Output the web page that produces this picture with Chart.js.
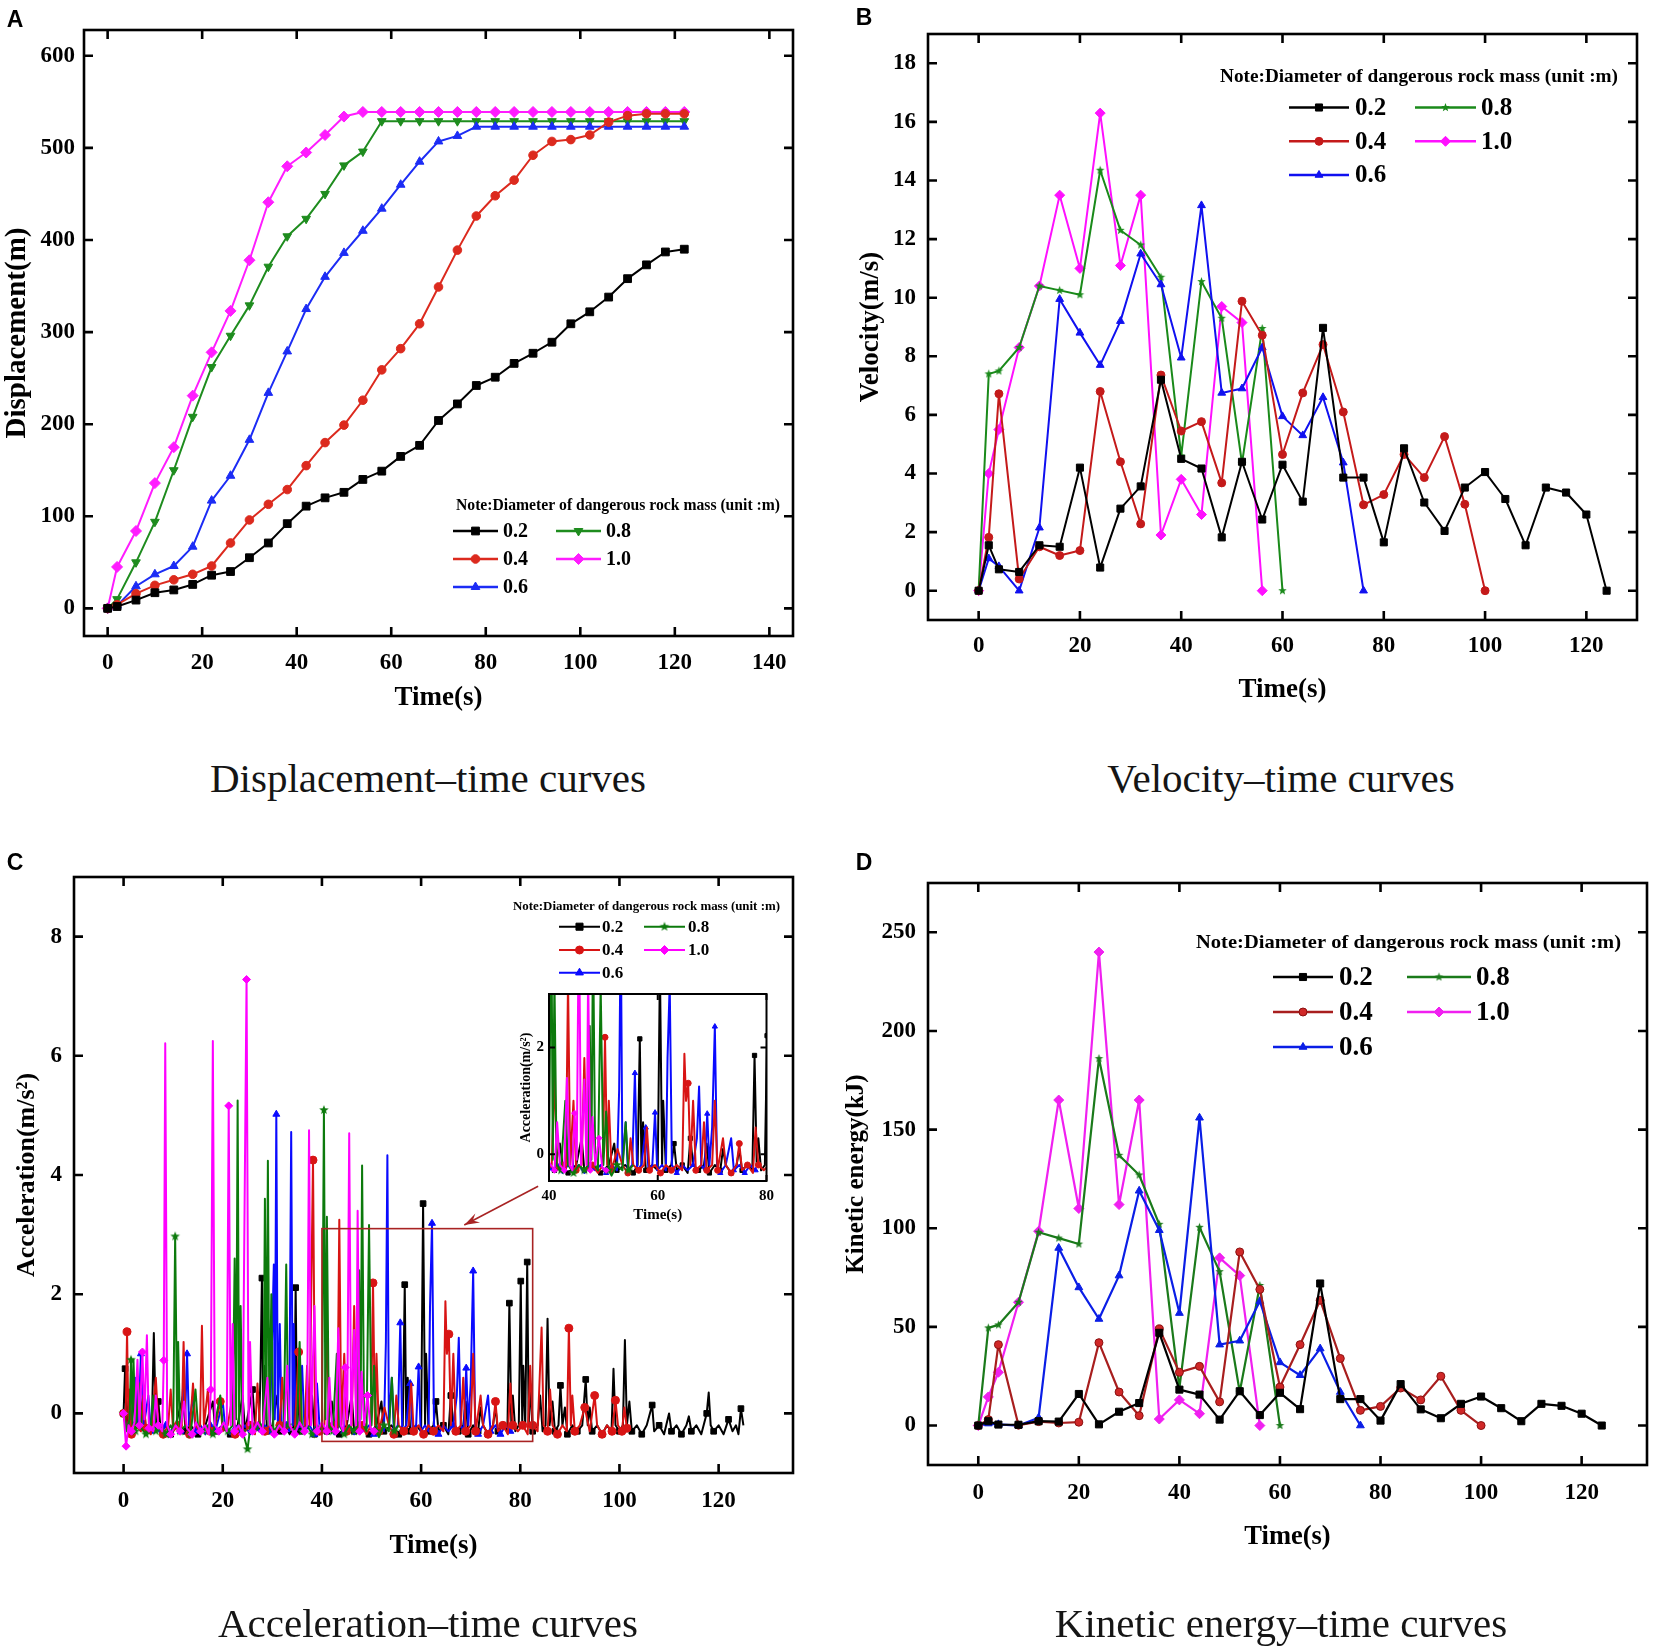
<!DOCTYPE html>
<html><head><meta charset="utf-8">
<script src="https://cdn.jsdelivr.net/npm/chart.js@4.4.1/dist/chart.umd.min.js"></script>
<style>
html,body{margin:0;padding:0;background:#fff;}
#page{position:relative;width:1653px;height:1647px;overflow:hidden;background:#fff;}
.cv{position:absolute;}
.cap{position:absolute;font-family:"Liberation Serif","Times New Roman",serif;font-size:41px;color:#151515;white-space:nowrap;transform:translate(-50%,-50%);}
.lab{position:absolute;font-family:"Liberation Sans",Arial,sans-serif;font-weight:bold;font-size:23px;color:#000;transform:translate(-50%,-50%);}
</style></head><body>
<div id="page">
  <div class="cv" style="left:0;top:0"><canvas id="cA" width="820" height="740"></canvas></div>
  <div class="cv" style="left:830px;top:0"><canvas id="cB" width="823" height="740"></canvas></div>
  <div class="cv" style="left:0;top:820px"><canvas id="cC" width="820" height="780"></canvas></div>
  <div class="cv" style="left:830px;top:820px"><canvas id="cD" width="823" height="780"></canvas></div>
  <div class="cv" style="left:505px;top:980px"><canvas id="cI" width="275" height="250"></canvas></div>
  <div class="lab" style="left:15px;top:19px">A</div>
  <div class="lab" style="left:864px;top:17px">B</div>
  <div class="lab" style="left:15px;top:862px">C</div>
  <div class="lab" style="left:864px;top:862px">D</div>
  <div class="cap" style="left:428px;top:778px">Displacement–time curves</div>
  <div class="cap" style="left:1281px;top:778px">Velocity–time curves</div>
  <div class="cap" style="left:428px;top:1623px">Acceleration–time curves</div>
  <div class="cap" style="left:1281px;top:1623px">Kinetic energy–time curves</div>
</div>
<script>
// ---------------- DATA ----------------
const seriesLabels = ['0.2','0.4','0.6','0.8','1.0'];
const noteText = 'Note:Diameter of dangerous rock mass (unit :m)';

// tick label values
const ticksTime140 = [0,20,40,60,80,100,120,140];
const ticksTime120 = [0,20,40,60,80,100,120];
const ticksDisp = [0,100,200,300,400,500,600];
const ticksVel = [0,2,4,6,8,10,12,14,16,18];
const ticksAcc = [0,2,4,6,8];
const ticksKE = [0,50,100,150,200,250];
const ticksInsetX = [40,60,80];
const ticksInsetY = [0,2];

// Panel A: displacement (m)
const tA = [0,2,6,10,14,18,22,26,30,34,38,42,46,50,54,58,62,66,70,74,78,82,86,90,94,98,102,106,110,114,118,122];
const disp02 = [0,2,9,17,20,26,36,40,55,71,92,111,120,126,140,149,165,177,204,222,242,251,266,277,289,309,322,338,358,373,387,390];
const disp04 = [0,4,16,25,31,37,46,71,96,113,129,155,180,199,226,259,282,309,349,389,426,448,465,492,507,509,514,528,535,537,537,537];
const disp06 = [0,3,24,37,46,67,117,144,183,234,279,325,360,386,410,434,460,485,507,513,523,523,523,523,523,523,523,523,523,523,523,523];
const disp08 = [0,10,50,94,150,208,262,296,329,371,404,423,450,481,496,529,529,529,529,529,529,529,529,529,529,529,529,529,529,529,529,529];
const disp10 = [0,45,84,136,175,231,278,323,378,441,480,495,514,534,539,539,539,539,539,539,539,539,539,539,539,539,539,539,539,539,539,539];

// Panel B: velocity (m/s)
const tB = [0,2,4,8,12,16,20,24,28,32,36,40,44,48,52,56,60,64,68,72,76,80,84,88,92,96,100,104,108,112,116,120,124];
const vel02 = [0,1.55,0.73,0.64,1.55,1.5,4.2,0.79,2.8,3.56,7.2,4.5,4.17,1.82,4.4,2.43,4.3,3.04,8.97,3.86,3.86,1.65,4.86,3.01,2.04,3.52,4.05,3.13,1.55,3.52,3.35,2.6,0];
const vel04 = [0,1.82,6.72,0.4,1.5,1.2,1.37,6.8,4.4,2.28,7.36,5.45,5.77,3.68,9.88,8.72,4.65,6.75,8.4,6.1,2.93,3.28,4.65,3.86,5.26,2.95,0];
const vel06 = [0,1.1,0.83,0,2.15,9.95,8.8,7.7,9.2,11.5,10.45,7.95,13.15,6.75,6.9,8.3,5.95,5.3,6.6,4.37,0];
const vel08 = [0,7.4,7.5,8.3,10.4,10.25,10.1,14.35,12.3,11.8,10.7,4.6,10.55,9.3,4.35,8.95,0];
const vel10 = [0,4.0,5.5,8.3,10.4,13.5,11.0,16.3,11.1,13.5,1.9,3.8,2.6,9.7,9.15,0];

// Panel D: kinetic energy (kJ), same time grid as B
const ke02 = [0,2.2,0.5,0.4,2.2,2,16,0.6,7,11.4,47,18.2,15.7,3,17.4,5.3,16.6,8.3,72,13.4,13.4,2.5,21,8.2,3.7,11,14.7,8.8,2.2,11,10,6,0];
const ke04 = [0,3,41,0.2,2,1.3,1.7,42,17,5,49,27,30,12,88,69,19.5,41,63.5,34,7.7,9.7,19,13,25,7.7,0];
const ke06 = [0,1,0.6,0,4,90,70,54,76,119,99,57,156,41,43,63,32,25.5,39,17,0];
const ke08 = [0,49.5,51,62.5,98,95,92,186,137,127,102,19,100.5,78,17,71,0];
const ke10 = [0,14.5,27,62.5,98.5,165,110,240,112,165,3.3,13,6,85,76,0];

// Panel C: acceleration (m/s^2); [time, value, marker?]
const acc02 = [[0,0,1],[0.3,0.75,1],[0.6,-0.2],[1.0,0.2],[1.4,-0.3],[2.5,0.5],[2.9,-0.2,1],[4.0,0.3],[4.5,-0.3],[5.7,-0.2],[6.1,1.35],[6.5,-0.2],[7.0,0.2,1],[7.5,-0.3],[8.5,-0.2],[9.5,-0.35,1],[10.5,-0.2],[12.0,0.3],[12.5,-0.3,1],[13.5,-0.2],[15.0,-0.35,1],[16.5,-0.2],[18.0,0.2],[18.5,-0.3,1],[20.0,-0.2],[21.5,-0.35,1],[23.0,-0.2],[24.0,0.3],[24.5,-0.3],[26.0,0.4,1],[26.5,-0.2],[27.3,-0.3],[27.6,0.6],[27.9,2.27,1],[28.2,-0.2],[28.5,0.8],[28.9,-0.3,1],[30.0,-0.2],[31.0,0.3],[31.5,-0.3,1],[32.5,-0.2],[33.5,-0.35],[34.4,-0.2],[34.7,2.11,1],[35.0,-0.2],[35.2,0.5],[35.6,-0.3,1],[36.8,-0.2],[38.0,0.3],[38.5,-0.35,1],[40.0,-0.2],[41.0,-0.3,1],[42.0,0.2],[42.5,-0.2],[43.5,-0.35,1],[45.0,-0.2],[46.0,0.3],[46.5,-0.3,1],[48.0,-0.2],[49.5,-0.35,1],[51.0,-0.2],[52.0,0.2],[52.5,-0.3,1],[54.0,-0.2],[55.5,-0.35,1],[56.3,-0.2],[56.7,2.16,1],[57.0,-0.2],[57.3,0.6],[57.8,-0.3,1],[59.0,-0.2],[60.0,-0.3],[60.4,3.52,1],[60.8,-0.2],[61.0,1.0],[61.5,-0.3,1],[62.5,-0.2],[63.0,0.2,1],[63.5,-0.3],[64.5,-0.2,1],[65.5,-0.35],[66.0,0.3,1],[66.5,-0.2],[67.5,-0.3,1],[68.5,-0.2],[69.0,0.2],[69.5,-0.35,1],[70.5,-0.2],[71.5,-0.3,1],[72.0,0.1],[72.5,-0.2],[73.5,-0.35,1],[74.5,-0.2],[75.0,0.1],[75.5,-0.3,1],[76.5,-0.2],[77.4,-0.3],[77.8,1.85,1],[78.2,-0.2],[78.5,0.3],[79.0,-0.3],[79.7,-0.2],[80.1,2.22,1],[80.4,-0.2],[80.6,0.8],[81.0,-0.2],[81.4,2.54,1],[81.7,-0.2],[82.0,0.5],[82.5,-0.3,1],[83.5,-0.2],[84.0,0.3],[84.5,-0.3],[85.1,-0.2],[85.5,1.59],[85.9,-0.2],[86.5,0.2],[87.0,-0.3,1],[87.7,-0.2],[88.1,0.47,1],[88.5,-0.2],[89.0,0.1],[89.5,-0.35,1],[90.5,-0.2],[91.5,-0.3,1],[92.5,-0.2],[93.2,0.57,1],[93.6,-0.2],[94.0,0.1],[94.5,-0.3,1],[95.5,-0.2],[96.5,-0.35,1],[97.5,-0.2],[98.4,-0.3],[98.8,0.75],[99.2,-0.2],[100.0,-0.3,1],[100.7,-0.2],[101.1,1.23],[101.5,-0.2],[102.0,0.2],[102.5,-0.3,1],[103.5,-0.2],[104.5,-0.35,1],[105.5,-0.2],[106.6,0.14,1],[107.0,-0.3],[108.0,-0.2,1],[109.0,-0.35],[110.0,0.0],[110.5,-0.3,1],[111.5,-0.2],[112.5,-0.35,1],[113.5,-0.2],[114.0,-0.05],[114.5,-0.3,1],[115.5,-0.2],[116.5,-0.35],[117.6,0.0,1],[118.0,0.35],[118.4,-0.2],[119.0,-0.3,1],[120.0,-0.2],[121.0,-0.35],[122.0,-0.1,1],[122.8,-0.3],[123.5,-0.2],[124.0,-0.35],[124.5,0.08,1],[125.0,-0.2]];
const acc04 = [[0,0,1],[0.4,-0.2],[0.7,1.37,1],[1.0,-0.3],[1.2,0.4],[1.6,-0.35,1],[2.5,-0.2],[3.5,-0.3],[4.0,0.3],[4.5,-0.25,1],[5.5,-0.35],[6.5,0.6],[7.0,-0.2],[8.0,-0.35,1],[9.0,-0.2],[9.5,0.4],[10.0,-0.3],[11.0,-0.2,1],[11.7,-0.3],[12.1,1.2],[12.5,-0.2],[13.3,-0.35,1],[14.0,0.5],[14.5,-0.2],[15.4,-0.3],[15.8,1.47],[16.2,-0.2],[17.0,0.4],[17.5,-0.3,1],[18.5,-0.2],[19.5,0.2,1],[20.0,-0.3],[21.0,-0.2],[22.0,0.3],[22.5,-0.35,1],[23.5,-0.2],[24.5,-0.3],[25.5,-0.2,1],[26.5,-0.35],[27.0,0.5],[27.5,-0.2],[28.5,-0.3,1],[29.5,-0.2],[30.5,-0.35],[31.5,-0.2,1],[32.0,0.6],[32.5,-0.3],[33.5,-0.2],[34.5,-0.35],[35.3,1.03,1],[35.7,-0.2],[36.5,-0.3],[37.0,0.8],[37.5,-0.2],[38.2,4.25,1],[38.6,-0.2],[39.5,-0.3,1],[40.5,-0.2],[41.0,1.5],[41.5,-0.3],[42.5,-0.2,1],[43.1,-0.3],[43.5,3.25],[43.9,-0.2],[44.5,1.0],[45.0,-0.3,1],[46.0,-0.2],[46.5,1.8],[47.0,-0.3],[48.0,-0.2,1],[49.0,-0.35],[49.9,-0.2],[50.3,2.19,1],[50.7,-0.2],[51.0,1.0],[51.5,-0.3,1],[52.6,0.1],[53.5,-0.2],[54.5,-0.35,1],[55.0,0.3],[55.5,-0.2],[56.5,-0.3,1],[57.5,-0.2],[58.0,0.5],[58.5,-0.3,1],[59.5,-0.2],[60.5,-0.35,1],[61.5,-0.2],[62.5,-0.3,1],[63.5,-0.2],[64.5,-0.3],[64.9,1.88],[65.2,1.0],[65.6,1.33,1],[66.0,-0.2],[66.5,1.0],[67.0,-0.3,1],[68.0,-0.2],[68.5,0.6],[69.0,-0.3,1],[70.0,-0.2],[70.5,1.0],[71.0,-0.3,1],[72.0,0.3],[72.5,-0.2],[73.5,-0.35,1],[74.5,-0.2],[75.0,0.2,1],[75.5,-0.3],[76.5,-0.2,1],[77.5,-0.35],[78.0,0.5],[78.5,-0.2,1],[79.5,-0.3],[80.5,-0.2,1],[81.5,-0.35],[82.0,0.8],[82.5,-0.2,1],[83.5,-0.3],[84.3,1.44],[84.7,-0.2],[85.5,-0.3,1],[86.0,0.4],[86.5,-0.2],[87.5,-0.35,1],[88.5,-0.2],[89.4,-0.3],[89.8,1.43,1],[90.2,-0.2],[90.5,0.3],[91.0,-0.3,1],[92.0,-0.2],[93.0,0.1,1],[94.0,-0.3],[95.0,0.3,1],[95.5,-0.2],[96.5,-0.35,1],[97.5,-0.2],[98.5,-0.3,1],[99.2,0.22,1],[99.7,-0.2],[100.5,-0.3,1],[101.0,0.1],[101.5,-0.25,1],[102.2,-0.2]];
const acc06 = [[0,0,1],[0.8,-0.3],[1.5,-0.15,1],[2.5,0.6],[3.0,-0.2],[3.5,1.0,1],[4.0,-0.25],[5.0,0.3],[5.5,-0.3,1],[6.5,-0.2],[7.5,-0.35],[8.5,-0.2,1],[9.5,-0.3],[10.5,-0.2],[11.5,-0.3,1],[12.1,0.6],[12.4,-0.1],[12.8,1.0,1],[13.2,-0.2],[14.0,0.3],[14.5,-0.3,1],[15.5,-0.2],[16.5,-0.35],[17.5,-0.2,1],[18.5,-0.3],[20.0,0.2],[20.5,-0.25,1],[21.5,-0.35],[22.5,-0.2],[23.5,-0.3,1],[24.5,-0.2],[25.5,-0.35],[26.5,-0.2,1],[27.5,-0.3],[28.5,-0.2],[29.5,-0.3,1],[30.3,2.5],[30.5,-0.1],[30.8,5.02,1],[31.1,-0.2],[31.5,1.5],[31.9,-0.3],[32.8,-0.2,1],[33.4,-0.3],[33.8,4.72],[34.1,-0.2],[34.3,1.5],[34.7,-0.3],[35.5,-0.2,1],[36.0,0.8],[36.5,-0.3],[37.5,-0.2],[38.5,-0.35,1],[39.0,0.5],[39.5,-0.2],[40.5,-0.3],[41.5,-0.2,1],[42.5,-0.35],[43.5,-0.2],[44.0,0.4],[44.5,-0.3,1],[45.5,-0.2],[46.5,-0.35],[47.5,-0.2,1],[48.5,-0.3],[49.5,-0.2],[50.5,-0.35,1],[51.5,-0.2],[52.5,-0.3],[52.9,1.2],[53.2,4.33],[53.5,-0.2],[54.1,0.6],[54.5,-0.3,1],[55.3,-0.2],[55.8,1.52,1],[56.2,-0.3],[57.0,-0.2],[57.8,0.5,1],[58.3,-0.3],[59.0,-0.2],[59.5,0.78,1],[59.9,-0.3],[60.8,-0.2],[61.5,-0.3],[61.8,1.8],[62.2,3.19,1],[62.6,-0.2],[63.5,-0.35,1],[64.5,-0.2],[65.5,-0.3],[66.5,-0.2,1],[67.2,0.3],[67.6,1.27],[68.0,-0.2],[68.6,-0.3],[69.1,0.76,1],[69.5,-0.2],[70.0,0.5],[70.5,2.39,1],[70.9,-0.2],[71.5,-0.35,1],[72.5,-0.2],[73.5,0.3],[74.0,-0.3,1],[75.0,-0.2],[76.0,-0.35,1],[77.0,-0.2],[78.0,-0.3,1]];
const acc08 = [[0,0,1],[0.6,-0.3],[1.2,-0.1],[1.5,0.9,1],[1.8,-0.2],[2.0,0.9],[2.4,-0.3,1],[3.2,0.5],[3.6,-0.25],[4.5,-0.35,1],[5.5,-0.2],[6.0,0.3],[6.5,-0.3,1],[7.5,-0.2],[8.5,-0.35,1],[9.5,-0.2],[10.0,-0.3],[10.4,2.97,1],[10.8,-0.2],[11.0,1.2],[11.4,-0.3,1],[12.5,-0.2],[13.5,-0.35,1],[14.5,0.4],[15.0,-0.2],[16.0,-0.3,1],[17.0,-0.2],[18.0,-0.35,1],[19.5,0.3],[20.0,-0.2],[21.0,-0.3,1],[22.0,-0.2],[22.4,2.6],[22.7,-0.1],[23.0,5.25],[23.3,-0.2],[23.6,1.8],[24.0,-0.3,1],[25.0,-0.6,1],[25.6,-0.2],[26.5,-0.3],[27.5,-0.2,1],[28.2,-0.3],[28.5,3.6],[28.8,-0.1],[29.1,4.24],[29.4,-0.2],[29.8,2.0],[30.2,-0.3,1],[31.2,-0.2],[32.3,-0.3],[32.8,2.5],[33.2,-0.2,1],[34.2,-0.3],[35.0,-0.2],[35.5,1.2],[36.0,-0.3,1],[37.0,-0.2],[38.0,-0.35,1],[39.0,-0.2],[40.0,-0.3],[40.4,5.09,1],[40.7,-0.1],[41.0,3.3],[41.4,-0.2],[42.2,-0.3,1],[43.0,1.0],[43.5,-0.2],[44.5,-0.35,1],[45.5,-0.2],[46.5,-0.3,1],[47.2,-0.2],[47.5,2.4],[47.8,-0.1],[48.1,4.16],[48.5,-0.2],[49.0,-0.3],[49.5,3.16],[50.0,-0.2],[50.5,0.8],[51.0,-0.3,1],[51.5,-0.4],[52.5,-0.2,1],[53.5,-0.3],[54.1,0.6],[54.6,-0.3,1],[55.5,-0.2]];
const acc10 = [[0,0,1],[0.5,-0.55,1],[1.0,-0.2],[1.6,-0.3,1],[2.2,-0.15],[2.8,0.9],[3.2,-0.2,1],[3.8,1.03,1],[4.2,-0.1],[4.7,1.31],[5.1,-0.25,1],[6.0,-0.3],[6.5,0.3],[7.0,-0.2,1],[7.8,-0.3],[8.1,0.89,1],[8.4,6.21],[8.8,-0.2],[9.5,-0.35,1],[10.5,-0.2],[11.4,-0.3,1],[12.2,0.2],[12.8,-0.25],[13.8,-0.35,1],[14.6,-0.15],[15.5,-0.3,1],[16.4,-0.2],[17.2,-0.35],[17.6,0.4,1],[18.0,6.25],[18.4,-0.2],[19.2,-0.3,1],[20.2,-0.15],[20.8,-0.3],[21.2,5.16,1],[21.6,-0.2],[22.0,1.5],[22.4,-0.3,1],[23.2,-0.2],[24.0,-0.35,1],[24.8,7.28,1],[25.2,-0.2],[25.5,1.2],[26.0,-0.3,1],[27.0,-0.15],[28.0,-0.3,1],[29.0,0.6],[29.5,-0.2],[30.4,-0.35,1],[31.4,-0.2],[32.4,-0.3,1],[33.0,0.8],[33.5,-0.2],[34.5,-0.35,1],[35.5,-0.15],[36.5,-0.3,1],[37.0,-0.2],[37.4,4.75],[37.8,-0.2],[38.5,1.8],[39.0,-0.3,1],[40.0,-0.15],[41.0,-0.3,1],[41.5,0.6],[42.0,-0.2],[42.8,-0.3,1],[43.3,1.43],[43.8,-0.2],[44.3,-0.3],[44.7,0.77,1],[45.1,-0.1],[45.5,4.7],[45.9,-0.2],[46.5,1.4],[46.9,-0.2],[47.2,3.4],[47.6,-0.3,1],[48.0,0.7],[48.5,-0.2],[49.2,0.3,1],[49.8,-0.25],[50.5,-0.3,1]];

// ---------------- STYLES ----------------
const SERIF = '"Liberation Serif","Times New Roman",serif';
function starImg(color, r) {
  const s = Math.ceil(r * 2 + 2);
  const c = document.createElement('canvas'); c.width = s; c.height = s;
  const g = c.getContext('2d'); g.fillStyle = color; g.beginPath();
  for (let i = 0; i < 10; i++) {
    const a = -Math.PI / 2 + i * Math.PI / 5, rr = (i % 2) ? r * 0.42 : r;
    g.lineTo(s / 2 + rr * Math.cos(a), s / 2 + rr * Math.sin(a));
  }
  g.closePath(); g.fill(); return c;
}

const framePlugin = {
  id: 'frame',
  afterDraw(chart, args, o) {
    const {ctx, chartArea: a} = chart; const x = chart.scales.x, y = chart.scales.y;
    ctx.save(); ctx.strokeStyle = '#000'; ctx.lineWidth = o.tw || o.lw; ctx.lineCap = 'butt';
    const L = o.len; ctx.beginPath();
    x.ticks.forEach(t => { const p = x.getPixelForValue(t.value);
      ctx.moveTo(p, a.bottom); ctx.lineTo(p, a.bottom - L); ctx.moveTo(p, a.top); ctx.lineTo(p, a.top + L); });
    y.ticks.forEach(t => { const p = y.getPixelForValue(t.value);
      ctx.moveTo(a.left, p); ctx.lineTo(a.left + L, p); ctx.moveTo(a.right, p); ctx.lineTo(a.right - L, p); });
    ctx.stroke();
    ctx.lineWidth = o.lw; ctx.strokeRect(a.left, a.top, a.right - a.left, a.bottom - a.top);
    ctx.restore();
  }
};

const slotOf = {'0.2':[0,0],'0.4':[0,1],'0.6':[0,2],'0.8':[1,0],'1.0':[1,1]};
const notePlugin = {
  id: 'note',
  afterDraw(chart, args, o) {
    if (!o || !o.text) return;
    const ctx = chart.ctx; ctx.save();
    ctx.fillStyle = '#000'; ctx.textBaseline = 'middle'; ctx.textAlign = 'left';
    ctx.font = 'bold ' + o.size + 'px ' + SERIF;
    const w = ctx.measureText(o.text).width;
    ctx.save(); ctx.translate(o.x, o.y); ctx.scale(o.w / w, 1); ctx.fillText(o.text, 0, 0); ctx.restore();
    chart.data.datasets.forEach(ds => {
      const sl = slotOf[ds.label]; const c = o.cols[sl[0]]; const yy = o.rows[sl[1]];
      ctx.strokeStyle = ds.borderColor; ctx.lineWidth = o.lw || ds.borderWidth;
      ctx.beginPath(); ctx.moveTo(c[0], yy); ctx.lineTo(c[1], yy); ctx.stroke();
      ctx.fillStyle = ds.pointBackgroundColor; ctx.strokeStyle = ds.pointBorderColor; ctx.lineWidth = 1;
      Chart.helpers.drawPoint(ctx, {pointStyle: ds.pointStyle, rotation: ds.pointRotation || 0,
        radius: ds.legendRadius, borderWidth: 1}, (c[0] + c[1]) / 2, yy);
      ctx.fillStyle = '#000'; ctx.font = 'bold ' + o.lab + 'px ' + SERIF;
      ctx.fillText(ds.label, c[2], yy + 1);
    });
    ctx.restore();
  }
};

const boxPlugin = {
  id: 'zoombox',
  afterDatasetsDraw(chart, args, o) {
    if (!o || !o.rect) return;
    const ctx = chart.ctx, x = chart.scales.x, y = chart.scales.y;
    ctx.save(); ctx.strokeStyle = o.color; ctx.fillStyle = o.color; ctx.lineWidth = 1.6;
    const r = o.rect;
    const x1 = x.getPixelForValue(r[0]), x2 = x.getPixelForValue(r[2]);
    const y1 = y.getPixelForValue(r[3]), y2 = y.getPixelForValue(r[1]);
    ctx.strokeRect(x1, y1, x2 - x1, y2 - y1);
    const a = o.arrow;
    const sx = x.getPixelForValue(a[0]), sy = y.getPixelForValue(a[1]);
    const ex = x.getPixelForValue(a[2]), ey = y.getPixelForValue(a[3]);
    ctx.beginPath(); ctx.moveTo(sx, sy); ctx.lineTo(ex, ey); ctx.stroke();
    const ang = Math.atan2(ey - sy, ex - sx), h = 16, wdt = 0.32;
    ctx.beginPath(); ctx.moveTo(ex, ey);
    ctx.lineTo(ex - h * Math.cos(ang - wdt), ey - h * Math.sin(ang - wdt));
    ctx.lineTo(ex - 0.6 * h * Math.cos(ang), ey - 0.6 * h * Math.sin(ang));
    ctx.lineTo(ex - h * Math.cos(ang + wdt), ey - h * Math.sin(ang + wdt));
    ctx.closePath(); ctx.fill();
    ctx.restore();
  }
};

function mkStyle(color, style, r, lw, extra) {
  return Object.assign({borderColor: color, backgroundColor: color, pointBackgroundColor: color,
    pointBorderColor: color, pointStyle: style, pointRadius: r, legendRadius: r, pointBorderWidth: 1,
    borderWidth: lw, tension: 0, fill: false}, extra || {});
}

function pairs(t, v) { return v.map((val, i) => ({x: t[i], y: val})); }
function accPts(arr) { return arr.map(p => ({x: p[0], y: p[1], m: p[2] ? 1 : 0})); }
function fixTicks(list) { return s => { s.ticks = list.map(v => ({value: v})); }; }

function baseOptions(cfg) {
  return {
    responsive: false, maintainAspectRatio: false, animation: false,
    layout: {padding: {left: 0, top: cfg.pt, right: cfg.pr, bottom: 0}},
    plugins: {legend: {display: false}, tooltip: {enabled: false},
      frame: {lw: cfg.flw, tw: cfg.tw, len: cfg.tl}, note: cfg.note, zoombox: cfg.box || {}},
    elements: {line: {borderJoinStyle: 'round'}},
    scales: {
      x: {type: 'linear', min: cfg.xr[0], max: cfg.xr[1],
        afterBuildTicks: fixTicks(cfg.xticks),
        afterFit: s => { s.height = cfg.xh; },
        grid: {display: false, drawTicks: false, tickLength: 0}, border: {display: false},
        ticks: {padding: cfg.xpad, color: '#000', maxRotation: 0, autoSkip: false,
          font: {family: SERIF, size: cfg.tf, weight: 'bold'}},
        title: {display: !!cfg.xt, text: cfg.xt, color: '#000', padding: {top: 0, bottom: cfg.xtpb},
          font: {family: SERIF, size: cfg.xtf, weight: 'bold'}}},
      y: {type: 'linear', min: cfg.yr[0], max: cfg.yr[1],
        afterBuildTicks: fixTicks(cfg.yticks),
        afterFit: s => { s.width = cfg.yw; },
        grid: {display: false, drawTicks: false, tickLength: 0}, border: {display: false},
        ticks: {padding: cfg.ypad, color: '#000', autoSkip: false,
          font: {family: SERIF, size: cfg.tf, weight: 'bold'}},
        title: {display: !!cfg.yt, text: cfg.yt, color: '#000', padding: {top: cfg.ytpt, bottom: 0},
          font: {family: SERIF, size: cfg.ytf, weight: 'bold'}}}
    }
  };
}
const plugins = [framePlugin, notePlugin, boxPlugin];

// ---------- Panel A ----------
new Chart(document.getElementById('cA'), {
  type: 'line',
  data: {datasets: [
    Object.assign({label: seriesLabels[0], data: pairs(tA, disp02)}, mkStyle('#000000', 'rect', 5.5, 2)),
    Object.assign({label: seriesLabels[1], data: pairs(tA, disp04)}, mkStyle('#dc2a1e', 'circle', 4.3, 2)),
    Object.assign({label: seriesLabels[2], data: pairs(tA, disp06)}, mkStyle('#1c2cf5', 'triangle', 5, 2)),
    Object.assign({label: seriesLabels[3], data: pairs(tA, disp08)}, mkStyle('#1e8c1e', 'triangle', 5, 2, {pointRotation: 180})),
    Object.assign({label: seriesLabels[4], data: pairs(tA, disp10)}, mkStyle('#ff1cff', 'rectRot', 5.5, 2))
  ]},
  options: baseOptions({pt: 30, pr: 27, xh: 104, yw: 84, xr: [-5, 145], yr: [-30, 628],
    xticks: ticksTime140, yticks: ticksDisp,
    tf: 23, xpad: 13, ypad: 9, xt: 'Time(s)', xtf: 27, xtpb: 26, yt: 'Displacement(m)', ytf: 29, ytpt: 0,
    flw: 2.6, tl: 9,
    note: {text: noteText, x: 456, y: 506, w: 324, size: 16, lab: 20, lw: 2.5,
      rows: [531, 559, 587], cols: [[453, 498, 503], [556, 601, 606]]}}),
  plugins
});

// ---------- Panel B ----------
new Chart(document.getElementById('cB'), {
  type: 'line',
  data: {datasets: [
    Object.assign({label: seriesLabels[0], data: pairs(tB, vel02)}, mkStyle('#000000', 'rect', 5, 2)),
    Object.assign({label: seriesLabels[1], data: pairs(tB, vel04)}, mkStyle('#c41a1a', 'circle', 4, 2)),
    Object.assign({label: seriesLabels[2], data: pairs(tB, vel06)}, mkStyle('#1010f0', 'triangle', 4.5, 2)),
    Object.assign({label: seriesLabels[3], data: pairs(tB, vel08)}, mkStyle('#1a8a1a', starImg('#1a8a1a', 4.5), 4, 2)),
    Object.assign({label: seriesLabels[4], data: pairs(tB, vel10)}, mkStyle('#ff10ff', 'rectRot', 5, 2))
  ]},
  options: baseOptions({pt: 34, pr: 16, xh: 120, yw: 98, xr: [-10, 130], yr: [-1, 19],
    xticks: ticksTime120, yticks: ticksVel,
    tf: 23, xpad: 12, ypad: 12, xt: 'Time(s)', xtf: 27, xtpb: 34, yt: 'Velocity(m/s)', ytf: 27, ytpt: 25,
    flw: 2.6, tl: 9,
    note: {text: noteText, x: 390, y: 77, w: 398, size: 18, lab: 25, lw: 2.5,
      rows: [107.5, 141.3, 175], cols: [[459, 519, 525], [585, 646, 651]]}}),
  plugins
});

// ---------- Panel C ----------
function accSets(r) {
  const rad = c => (c.raw && c.raw.m) ? r : 0;
  return [
    Object.assign({label: seriesLabels[4], data: accPts(acc10)}, mkStyle('#ff00ff', 'rectRot', 4.5, 2, {pointRadius: rad, legendRadius: 4.5})),
    Object.assign({label: seriesLabels[3], data: accPts(acc08)}, mkStyle('#0c7a0c', starImg('#0c7a0c', 5), 4, 2, {pointRadius: rad, legendRadius: 4})),
    Object.assign({label: seriesLabels[1], data: accPts(acc04)}, mkStyle('#d81414', 'circle', 4, 2, {pointRadius: rad, legendRadius: 4})),
    Object.assign({label: seriesLabels[2], data: accPts(acc06)}, mkStyle('#0a0aff', 'triangle', 4.5, 2, {pointRadius: rad, legendRadius: 4.5})),
    Object.assign({label: seriesLabels[0], data: accPts(acc02)}, mkStyle('#000000', 'rect', 5, 2, {pointRadius: rad, legendRadius: 5}))
  ];
}
new Chart(document.getElementById('cC'), {
  type: 'line',
  data: {datasets: accSets(4)},
  options: baseOptions({pt: 57, pr: 27, xh: 127, yw: 74, xr: [-10, 135], yr: [-1, 9],
    xticks: ticksTime120, yticks: ticksAcc,
    tf: 23, xpad: 14, ypad: 12, xt: 'Time(s)', xtf: 27, xtpb: 38, yt: 'Acceleration(m/s²)', ytf: 26, ytpt: 12,
    flw: 2.6, tl: 9,
    note: {text: noteText, x: 513, y: 86.7, w: 267, size: 12, lab: 17, lw: 2,
      rows: [106.7, 130, 152.7], cols: [[559, 600, 602], [644, 685, 688]]},
    box: {color: '#a82323', rect: [40, -0.47, 82.5, 3.1], arrow: [83.6, 3.81, 68.7, 3.16]}}),
  plugins
});

// ---------- Inset of C ----------
new Chart(document.getElementById('cI'), {
  type: 'line',
  data: {datasets: accSets(3)},
  options: baseOptions({pt: 9, pr: 11.5, xh: 49, yw: 44, xr: [40, 80], yr: [-0.5, 3],
    xticks: ticksInsetX, yticks: ticksInsetY,
    tf: 15, xpad: 6, ypad: 5, xt: 'Time(s)', xtf: 15, xtpb: 6, yt: 'Acceleration(m/s²)', ytf: 14, ytpt: 13,
    flw: 2, tl: 6, note: {}}),
  plugins
});

// ---------- Panel D ----------
new Chart(document.getElementById('cD'), {
  type: 'line',
  data: {datasets: [
    Object.assign({label: seriesLabels[0], data: pairs(tB, ke02)}, mkStyle('#000000', 'rect', 5, 2.2)),
    Object.assign({label: seriesLabels[1], data: pairs(tB, ke04)}, mkStyle('#a81e1e', 'circle', 4, 2.2, {pointBackgroundColor: '#d02828', pointBorderColor: '#8a1010'})),
    Object.assign({label: seriesLabels[2], data: pairs(tB, ke06)}, mkStyle('#0a1ee6', 'triangle', 4.5, 2.2)),
    Object.assign({label: seriesLabels[3], data: pairs(tB, ke08)}, mkStyle('#1a7a1a', starImg('#1a7a1a', 4.5), 4, 2.2)),
    Object.assign({label: seriesLabels[4], data: pairs(tB, ke10)}, mkStyle('#f020f0', 'rectRot', 5, 2.2))
  ]},
  options: baseOptions({pt: 63, pr: 2, xh: 135, yw: 98, xr: [-10, 133], yr: [-20, 275],
    xticks: ticksTime120, yticks: ticksKE,
    tf: 23, xpad: 14, ypad: 12, xt: 'Time(s)', xtf: 26.5, xtpb: 47, yt: 'Kinetic energy(kJ)', ytf: 25, ytpt: 12,
    flw: 2.6, tl: 9,
    note: {text: noteText, x: 366, y: 123, w: 425, size: 19, lab: 27, lw: 2.5,
      rows: [157, 192, 227], cols: [[443, 503, 509], [577, 641, 646]]}}),
  plugins
});
</script>
</body></html>
